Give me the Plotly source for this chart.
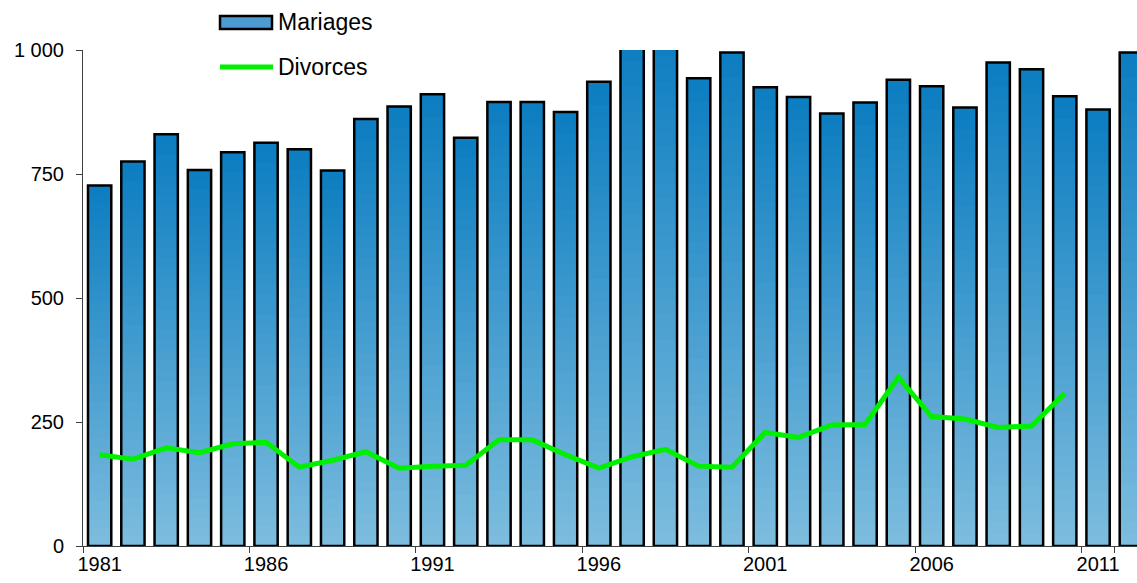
import plotly.graph_objects as go

years = [str(y) for y in range(1981, 2013)]
mariages = [727, 775, 830, 758, 794, 813, 800, 757, 861, 886, 911, 823, 895, 895, 875,
            936, 1030, 1040, 943, 995, 925, 905, 872, 894, 940, 927, 884, 975, 961, 907,
            880, 995]
divorce_years = [str(y) for y in range(1981, 2011)]
divorces = [184, 175, 198, 188, 206, 209, 159, 173, 190, 157, 161, 163, 214, 214, 184,
            157, 180, 195, 161, 159, 229, 219, 244, 245, 340, 261, 256, 239, 242, 308]
y_ticks = [0, 250, 500, 750, 1000]
y_ticktext = ["0", "250", "500", "750", "1 000"]
x_ticks = ["1981", "1986", "1991", "1996", "2001", "2006", "2011"]

W, H = 1137, 583
L, T, B = 83, 50, 37
FONT = "Liberation Sans, Arial, sans-serif"

top_rgb = (10, 124, 192)
bot_rgb = (124, 188, 222)
N = 40
BAR_W = 0.7

fig = go.Figure()
for i in range(N):
    f = i / N
    c = tuple(round(bot_rgb[k] + (top_rgb[k] - bot_rgb[k]) * f) for k in range(3))
    fig.add_trace(go.Bar(
        x=years, y=[v * (1 - f) for v in mariages], base=[v * f for v in mariages],
        width=BAR_W, marker=dict(color="rgb(%d,%d,%d)" % c, line=dict(width=0)),
        showlegend=False, hoverinfo="skip"))
fig.add_trace(go.Bar(
    x=years, y=mariages, width=BAR_W, name="Mariages",
    marker=dict(color="rgba(0,0,0,0)", line=dict(color="black", width=2.5)),
    showlegend=False))
fig.add_trace(go.Scatter(
    x=divorce_years, y=divorces, mode="lines", name="Divorces",
    line=dict(color="#00f000", width=5), showlegend=False))

fig.update_layout(
    width=W, height=H, barmode="overlay",
    margin=dict(l=L, r=0, t=T, b=B),
    paper_bgcolor="white", plot_bgcolor="white",
    font=dict(family=FONT, size=20, color="black"),
    xaxis=dict(type="category", range=[-0.5, 31.17], tickmode="array", tickvals=x_ticks,
               tickson="boundaries", ticks="outside", ticklen=6, tickcolor="#404040",
               showline=True, linecolor="#404040", linewidth=1, showgrid=False,
               zeroline=False, tickfont=dict(size=20), tickangle=0, automargin=False),
    yaxis=dict(range=[0, 1000], tickmode="array", tickvals=y_ticks, ticktext=y_ticktext,
               ticks="outside", ticklen=6, tickcolor="#404040", showline=True,
               linecolor="#404040", linewidth=1, showgrid=False, zeroline=False,
               tickfont=dict(size=20), ticklabelstandoff=8, automargin=False),
)

def px(x):
    return (x - L) / (W - L)

def py(y):
    return (H - B - y) / (H - B - T)

# legend drawn manually
fig.add_shape(type="rect", xref="paper", yref="paper", x0=px(220), x1=px(272),
              y0=py(29), y1=py(16), fillcolor="#4c9bd2",
              line=dict(color="black", width=2.5))
fig.add_shape(type="line", xref="paper", yref="paper", x0=px(220), x1=px(273),
              y0=py(67), y1=py(67), line=dict(color="#00f000", width=5))
fig.add_annotation(xref="paper", yref="paper", x=px(276), y=py(22), text="Mariages",
                   showarrow=False, xanchor="left", yanchor="middle",
                   font=dict(size=23, color="black"))
fig.add_annotation(xref="paper", yref="paper", x=px(276), y=py(67), text="Divorces",
                   showarrow=False, xanchor="left", yanchor="middle",
                   font=dict(size=23, color="black"))

fig.write_html("out.html", config={"displayModeBar": False},
               post_script="document.body.style.margin='0';document.body.style.overflow='hidden';")
